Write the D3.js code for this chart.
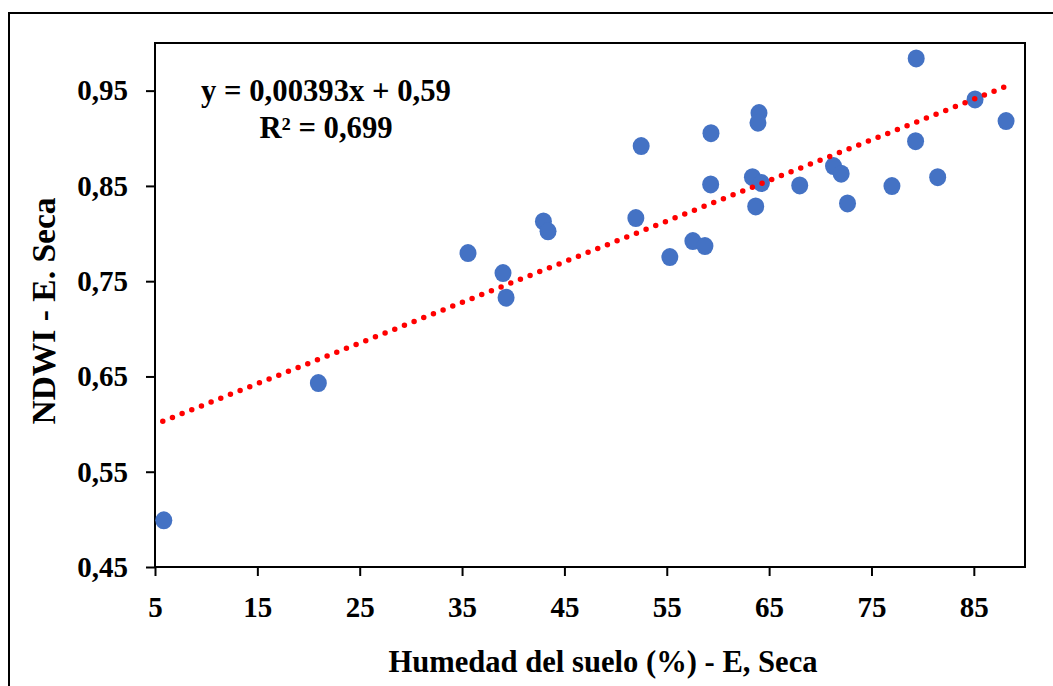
<!DOCTYPE html>
<html lang="en">
<head>
    <meta charset="UTF-8">
    <script src="https://d3js.org/d3.v7.min.js"></script>
    <title>NDWI vs Humedad del suelo</title>
    <style>
        body {
            margin: 0;
            background-color: #ffffff;
        }

        svg text {
            font-family: "Liberation Serif", "Times New Roman", serif;
            font-weight: bold;
            fill: #000;
        }

        .axis text {
            font-size: 29px;
        }

        .axis line {
            stroke: #000;
            stroke-width: 2px;
        }
    </style>
</head>
<body>
    <div id="chart"></div>

    <script>
        // values
        const humedad = [5.86, 20.96, 35.58, 39.0, 39.3, 42.95, 43.4, 51.98, 52.5, 55.3,
            57.55, 58.73, 59.29, 59.32, 63.37, 63.69, 64.01, 63.91, 64.25, 67.99,
            71.29, 72.04, 72.66, 77.0, 79.31, 79.37, 81.47, 85.12, 88.15];
        const ndwi = [0.499, 0.643, 0.7795, 0.7585, 0.7327, 0.8127, 0.8023, 0.8162, 0.8918, 0.7753,
            0.7921, 0.7868, 0.8516, 0.9054, 0.8592, 0.8285, 0.9264, 0.9163, 0.853, 0.8505,
            0.8708, 0.8628, 0.8316, 0.8498, 0.897, 0.9838, 0.8592, 0.9408, 0.918];

        // trend line as drawn (start and end)
        const trendX = [5.76, 88.05];
        const trendY = [0.603, 0.954];

        const xTicks = [5, 15, 25, 35, 45, 55, 65, 75, 85];
        const yTicks = [0.45, 0.55, 0.65, 0.75, 0.85, 0.95];

        const equationText = "y = 0,00393x + 0,59";
        const r2Text = "R² = 0,699";
        const xTitle = "Humedad del suelo (%) - E, Seca";
        const yTitle = "NDWI - E. Seca";

        const width = 1053;
        const height = 686;
        const plot = { left: 155, top: 43, right: 1025, bottom: 567 };

        const svg = d3.select("#chart").append("svg")
            .attr("width", width)
            .attr("height", height);

        // outer chart border (runs off the right and bottom)
        svg.append("rect")
            .attr("x", 9)
            .attr("y", 13)
            .attr("width", 1200)
            .attr("height", 900)
            .attr("fill", "none")
            .attr("stroke", "#000")
            .attr("stroke-width", 2);

        const x = d3.scaleLinear().domain([5, 90]).range([plot.left, plot.right]);
        const y = d3.scaleLinear().domain([0.45, 1.0]).range([plot.bottom, plot.top]);

        const comma = d => String(d).replace(".", ",");
        const yFmt = d => comma(d3.format(".2f")(d));

        const xAxis = svg.append("g")
            .attr("class", "axis")
            .attr("transform", `translate(0,${plot.bottom})`)
            .call(d3.axisBottom(x).tickValues(xTicks).tickFormat(d => comma(d))
                .tickSize(9).tickSizeOuter(0).tickPadding(20));
        xAxis.select(".domain").remove();

        const yAxis = svg.append("g")
            .attr("class", "axis")
            .attr("transform", `translate(${plot.left},0)`)
            .call(d3.axisLeft(y).tickValues(yTicks).tickFormat(yFmt)
                .tickSize(9).tickSizeOuter(0).tickPadding(18));
        yAxis.select(".domain").remove();

        // plot frame
        svg.append("rect")
            .attr("x", plot.left)
            .attr("y", plot.top)
            .attr("width", plot.right - plot.left)
            .attr("height", plot.bottom - plot.top)
            .attr("fill", "none")
            .attr("stroke", "#000")
            .attr("stroke-width", 2);

        // points
        svg.append("g")
            .selectAll("ellipse")
            .data(humedad.map((h, i) => ({ h: h, n: ndwi[i] })))
            .enter()
            .append("ellipse")
            .attr("cx", d => x(d.h))
            .attr("cy", d => y(d.n))
            .attr("rx", 8.5)
            .attr("ry", 9)
            .attr("fill", "#4472C4");

        // dotted trend line
        svg.append("path")
            .datum(trendX.map((t, i) => [t, trendY[i]]))
            .attr("d", d3.line().x(d => x(d[0])).y(d => y(d[1])))
            .attr("fill", "none")
            .attr("stroke", "#FF0000")
            .attr("stroke-width", 5.5)
            .attr("stroke-linecap", "round")
            .attr("stroke-dasharray", "0 10.4");

        // equation
        svg.append("text")
            .attr("x", 326)
            .attr("y", 101)
            .attr("text-anchor", "middle")
            .style("font-size", "30.7px")
            .text(equationText);
        svg.append("text")
            .attr("x", 326)
            .attr("y", 138)
            .attr("text-anchor", "middle")
            .style("font-size", "30.7px")
            .text(r2Text);

        // axis titles
        svg.append("text")
            .attr("x", 603)
            .attr("y", 672)
            .attr("text-anchor", "middle")
            .style("font-size", "30.6px")
            .text(xTitle);
        svg.append("text")
            .attr("transform", "translate(55,311) rotate(-90)")
            .attr("text-anchor", "middle")
            .style("font-size", "33.5px")
            .text(yTitle);
    </script>
</body>
</html>
